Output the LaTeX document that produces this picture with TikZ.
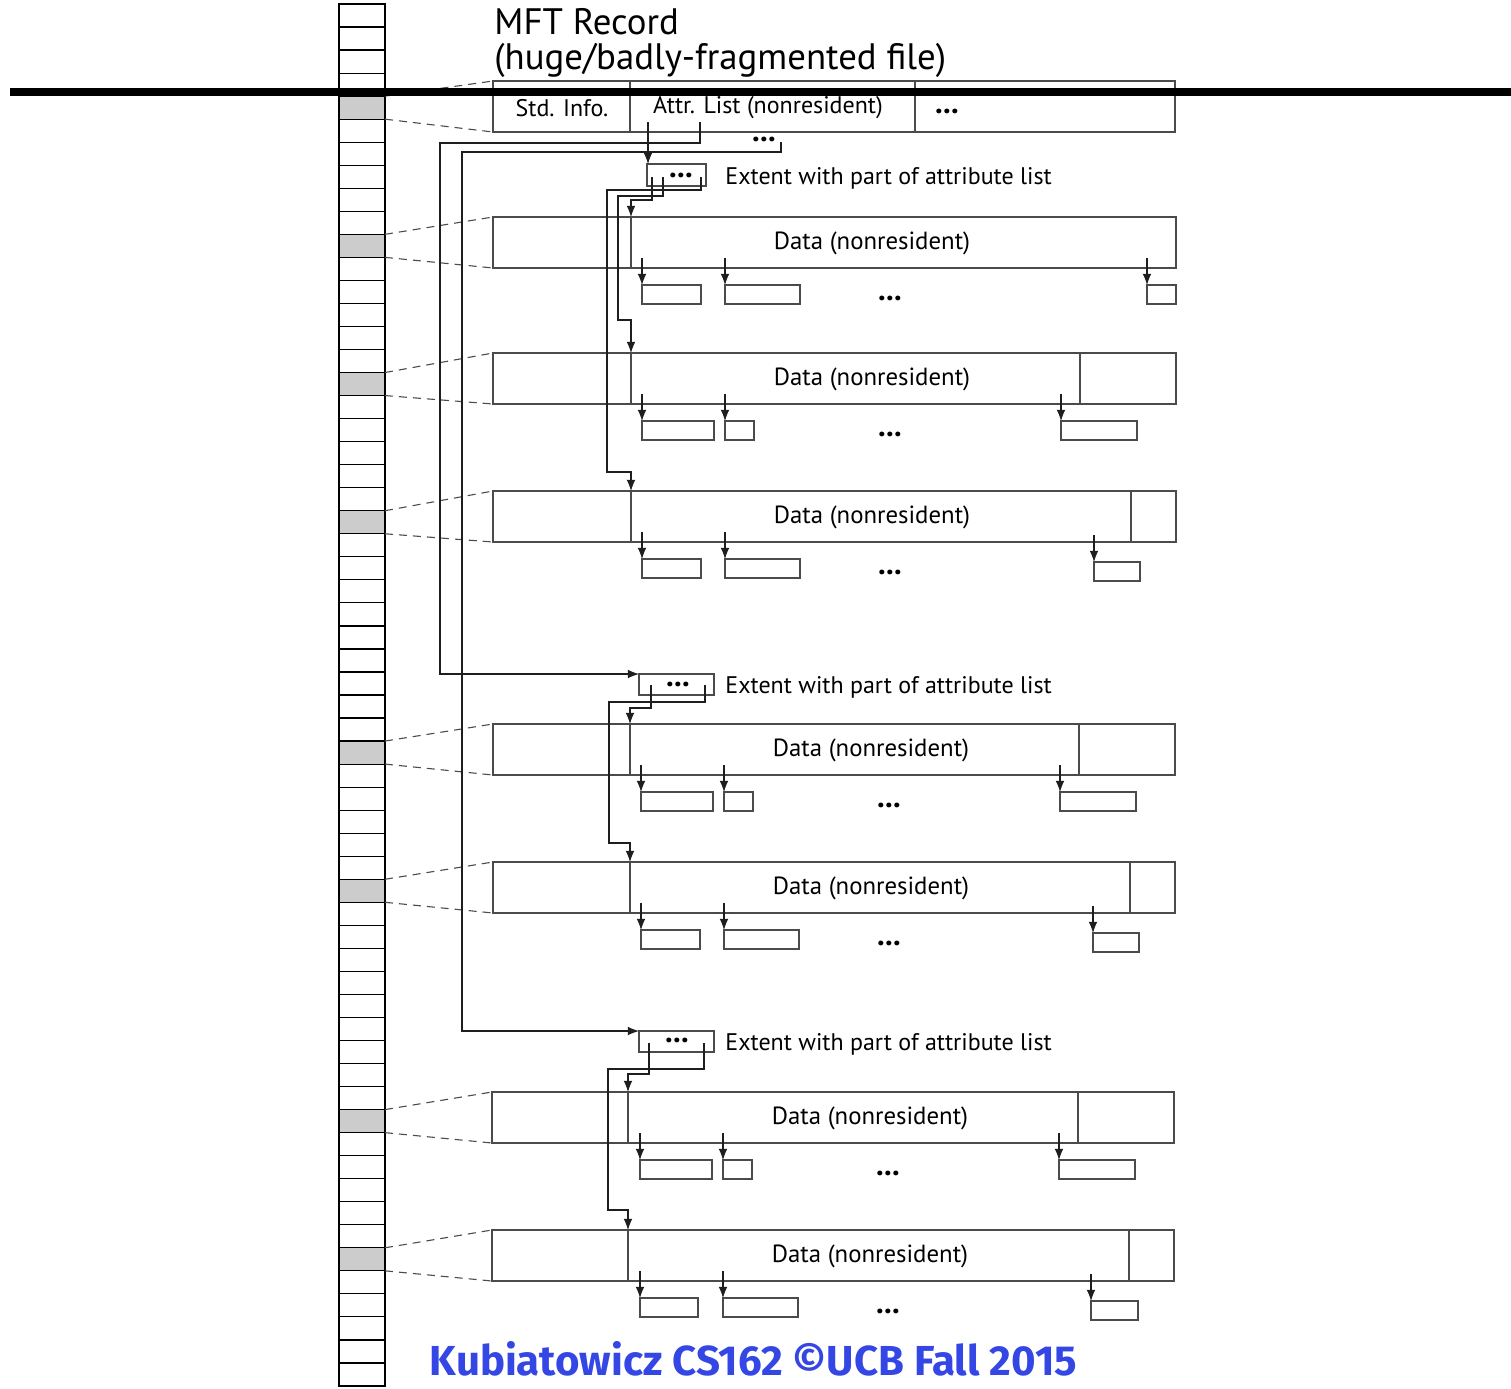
\documentclass[tikz,border=0pt]{standalone}
\usepackage{fontspec}
\usepackage{graphicx}
\setmainfont{PT Sans}
\newfontfamily\footfont{Fira Sans}
\usetikzlibrary{arrows.meta,fit}

\definecolor{edge}{RGB}{75,75,75}
\definecolor{linec}{RGB}{30,30,30}
\definecolor{cellgray}{RGB}{204,204,204}
\definecolor{footblue}{RGB}{52,70,228}

\begin{document}
\begin{tikzpicture}[x=0.5pt,y=-0.5pt,
  recbox/.style={draw=edge,line width=0.65pt,inner sep=0pt,outer sep=0pt,fit={#1}},
  cellbox/.style={draw=black,line width=0.6pt,minimum width=23pt,minimum height=11.5165pt,
    inner sep=0pt,outer sep=0pt,anchor=north west},
  divline/.style={draw=edge,line width=0.65pt},
  conn/.style={draw=linec,line width=0.55pt},
  arr/.style={conn,-{Latex[length=5.6pt,width=4.4pt]}},
  dashlink/.style={draw=edge,line width=0.55pt,dash pattern=on 4pt off 3pt},
  lbl/.style={font=\fontsize{12.4}{14}\selectfont,inner sep=0pt},
  hdr/.style={font=\fontsize{12}{14}\selectfont,inner sep=0pt},
  extlbl/.style={font=\fontsize{12}{14}\selectfont,inner sep=0pt,anchor=west},
  dots/.style={font=\fontsize{15.5}{16}\selectfont\bfseries,inner sep=0pt},
  titlefont/.style={font=\fontsize{18.4}{21}\selectfont,inner sep=0pt},
]
\useasboundingbox (0,0) rectangle (1511,1388);

% ---- disk cell strip ----
\foreach \i in {0,...,59}{
  \def\cfill{white}
  \foreach \g in {4,10,16,22,32,38,48,54}{\ifnum\i=\g\relax\gdef\cfill{cellgray}\fi}
  \node[cellbox,fill=\cfill] (c\i) at (339,{4+\i*23.033}) {};
}

% ---- MFT record ----
\node[titlefont,anchor=base west] (t1) at (494,34) {MFT Record};
\node[titlefont,anchor=base west] (t2) at (494,69) {(huge/badly-fragmented file)};
\node[recbox={(493,81) (1175,132)}] (mft) {};
\draw[divline] (630,81) -- (630,132);
\draw[divline] (915,81) -- (915,132);
\node[hdr] (si) at (562,108) {Std. Info.};
\node[hdr] (al) at (768,108) {Attr. List (nonresident)};
\node[dots] (mdots) at (947,111) {...};
\node[dots] (aldots) at (764,139) {...};
\draw[dashlink] (c4.north east) -- (mft.north west);
\draw[dashlink] (c4.south east) -- (mft.south west);

% ---- extents holding the attribute list ----
\node[recbox={(647,164) (706,186)}] (e1) {};
\node[dots] at (681,175) {...};
\node[extlbl] (e1t) at (725,178) {Extent with part of attribute list};
\node[recbox={(639,674) (714,695)}] (e2) {};
\node[dots] at (678,684) {...};
\node[extlbl] (e2t) at (725,687) {Extent with part of attribute list};
\node[recbox={(639,1031) (714,1052)}] (e3) {};
\node[dots] at (677,1040) {...};
\node[extlbl] (e3t) at (725,1044) {Extent with part of attribute list};

% ---- data records ----
% row 1
\node[recbox={(493,217) (1176,268)}] (d1) {};
\draw[divline] (631,217) -- (631,268);
\node[lbl] at (872,243.5) {Data (nonresident)};
\node[recbox={(642,285) (701,304)}] (r11) {};
\node[recbox={(725,285) (800,304)}] (r12) {};
\node[recbox={(1147,285) (1176,304)}] (r13) {};
\node[dots] at (890,298) {...};
% row 2
\node[recbox={(493,353) (1176,404)}] (d2) {};
\draw[divline] (631,353) -- (631,404);
\draw[divline] (1080,353) -- (1080,404);
\node[lbl] at (872,379.5) {Data (nonresident)};
\node[recbox={(642,421) (714,440)}] (r21) {};
\node[recbox={(725,421) (754,440)}] (r22) {};
\node[recbox={(1061,421) (1137,440)}] (r23) {};
\node[dots] at (890,434) {...};
% row 3
\node[recbox={(493,491) (1176,542)}] (d3) {};
\draw[divline] (631,491) -- (631,542);
\draw[divline] (1131,491) -- (1131,542);
\node[lbl] at (872,517.5) {Data (nonresident)};
\node[recbox={(642,559) (701,578)}] (r31) {};
\node[recbox={(725,559) (800,578)}] (r32) {};
\node[recbox={(1094,562) (1140,581)}] (r33) {};
\node[dots] at (890,572) {...};
% row 4
\node[recbox={(493,724) (1175,775)}] (d4) {};
\draw[divline] (630,724) -- (630,775);
\draw[divline] (1079,724) -- (1079,775);
\node[lbl] at (871,750.5) {Data (nonresident)};
\node[recbox={(641,792) (713,811)}] (r41) {};
\node[recbox={(724,792) (753,811)}] (r42) {};
\node[recbox={(1060,792) (1136,811)}] (r43) {};
\node[dots] at (889,805) {...};
% row 5
\node[recbox={(493,862) (1175,913)}] (d5) {};
\draw[divline] (630,862) -- (630,913);
\draw[divline] (1130,862) -- (1130,913);
\node[lbl] at (871,888.5) {Data (nonresident)};
\node[recbox={(641,930) (700,949)}] (r51) {};
\node[recbox={(724,930) (799,949)}] (r52) {};
\node[recbox={(1093,933) (1139,952)}] (r53) {};
\node[dots] at (889,943) {...};
% row 6
\node[recbox={(492,1092) (1174,1143)}] (d6) {};
\draw[divline] (628,1092) -- (628,1143);
\draw[divline] (1078,1092) -- (1078,1143);
\node[lbl] at (870,1118.5) {Data (nonresident)};
\node[recbox={(640,1160) (712,1179)}] (r61) {};
\node[recbox={(723,1160) (752,1179)}] (r62) {};
\node[recbox={(1059,1160) (1135,1179)}] (r63) {};
\node[dots] at (888,1173) {...};
% row 7
\node[recbox={(492,1230) (1174,1281)}] (d7) {};
\draw[divline] (628,1230) -- (628,1281);
\draw[divline] (1129,1230) -- (1129,1281);
\node[lbl] at (870,1256.5) {Data (nonresident)};
\node[recbox={(640,1298) (698,1317)}] (r71) {};
\node[recbox={(723,1298) (798,1317)}] (r72) {};
\node[recbox={(1091,1301) (1138,1320)}] (r73) {};
\node[dots] at (888,1311) {...};

% ---- dashed links from disk cells to records ----
\foreach \c/\d in {10/d1,16/d2,22/d3,32/d4,38/d5,48/d6,54/d7}{
  \draw[dashlink] (c\c.north east) -- (\d.north west);
  \draw[dashlink] (c\c.south east) -- (\d.south west);
}

% ---- run pointers inside each data record ----
\foreach \r in {r11,r12,r13,r21,r22,r23,r31,r32,r33,r41,r42,r43,r51,r52,r53,r61,r62,r63,r71,r72,r73}{
  \draw[arr] ([yshift=13.5pt]\r.north west) -- (\r.north west);
}

% ---- pointers out of the attribute list ----
\coordinate (al1) at (648,122);
\coordinate (al2) at (700,122);
\coordinate (al3) at (781,142);
\draw[arr] (al1) -- (al1 |- e1.north);
\draw[arr] (al2) |- (440,143) |- (e2.north west);
\draw[arr] (al3) |- (462,152) |- (e3.north west);

% ---- pointers from the extents to the data records ----
\coordinate (d1in) at (631,217);
\coordinate (d2in) at (631,353);
\coordinate (d3in) at (631,491);
\coordinate (d4in) at (630,724);
\coordinate (d5in) at (630,862);
\coordinate (d6in) at (628,1092);
\coordinate (d7in) at (628,1230);
\coordinate (e1a) at (652,177);
\coordinate (e1b) at (663,177);
\coordinate (e1c) at (701,177);
\coordinate (e2a) at (651,685);
\coordinate (e2b) at (705,685);
\coordinate (e3a) at (649,1043);
\coordinate (e3b) at (704,1043);
\draw[arr] (e1a) |- (631,200) -- (d1in);
\draw[arr] (e1b) |- (618,196) |- (631,320) -- (d2in);
\draw[arr] (e1c) |- (607,190) |- (631,472) -- (d3in);
\draw[arr] (e2a) |- (630,708) -- (d4in);
\draw[arr] (e2b) |- (609,702) |- (630,843) -- (d5in);
\draw[arr] (e3a) |- (628,1074) -- (d6in);
\draw[arr] (e3b) |- (608,1069) |- (628,1210) -- (d7in);

% ---- heavy rule across the top ----
\coordinate (barL) at (10,91.5);
\coordinate (barR) at (1511,91.5);
\draw[line width=4pt] (barL) -- (barR);

% ---- footer ----
\node[inner sep=0pt,text=footblue] (foot) at (753.5,1359)
  {\resizebox{323.5pt}{17pt}{\footfont\bfseries Kubiatowicz CS162 \textcopyright UCB Fall 2015}};
\end{tikzpicture}
\end{document}
